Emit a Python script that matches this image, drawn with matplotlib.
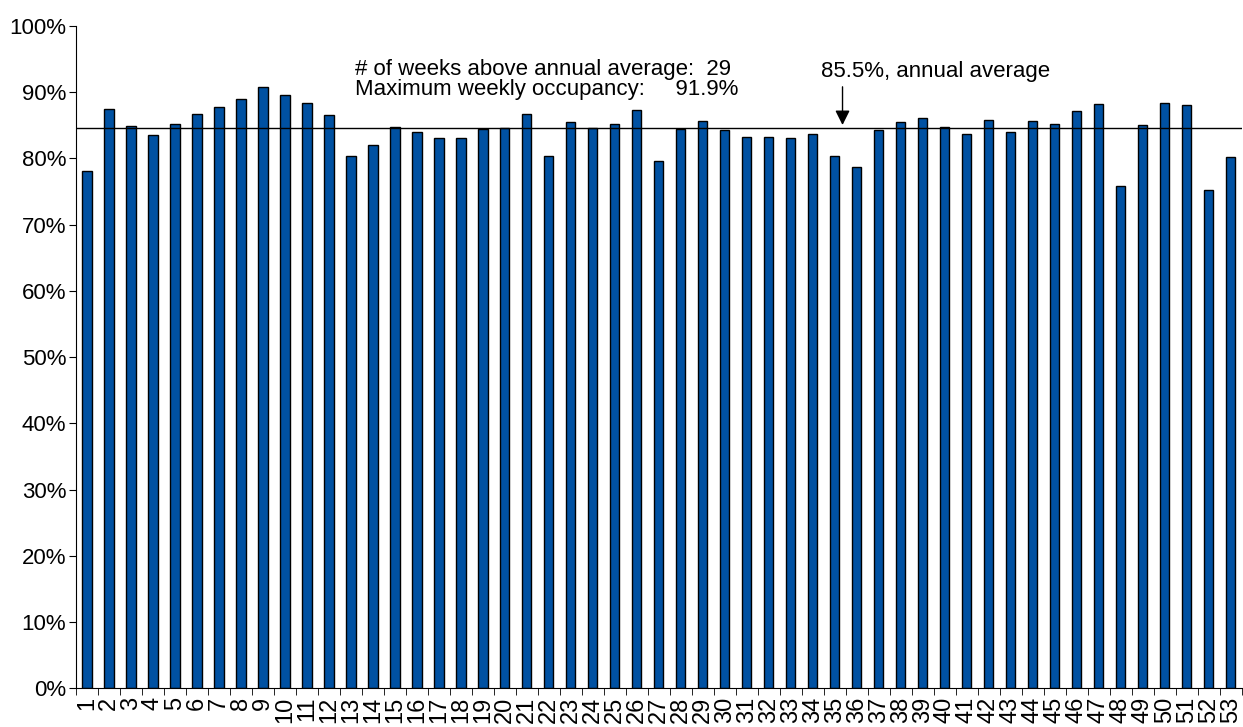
import numpy as np
import matplotlib
matplotlib.use("Agg")
import matplotlib.pyplot as plt

plt.rcParams['font.family'] = ['Liberation Sans', 'DejaVu Sans']

# weekly occupancy, %
weeks = list(range(1, 54))
occupancy = [78.1, 87.5, 84.8, 83.5, 85.1, 86.7, 87.7, 89.0, 90.8, 89.5,
             88.3, 86.6, 80.4, 82.0, 84.7, 84.0, 83.1, 83.1, 84.4, 84.6,
             86.7, 80.4, 85.5, 84.5, 85.1, 87.3, 79.6, 84.4, 85.6, 84.3,
             83.2, 83.2, 83.1, 83.6, 80.3, 78.7, 84.2, 85.5, 86.1, 84.7,
             83.6, 85.8, 84.0, 85.6, 85.1, 87.2, 88.2, 75.8, 85.0, 88.3,
             88.1, 75.2, 80.2]
avg_line = 84.6
avg_label = "85.5%, annual average"
weeks_above = 29
max_occ = 91.9

fig = plt.figure(figsize=(12.43, 7.27), dpi=100)
ax = fig.add_axes([0.0611, 0.0532, 0.9379, 0.9114])

ax.bar(weeks, occupancy, width=0.42, color='#0051A2', edgecolor='black', linewidth=1)
ax.axhline(avg_line, color='black', linewidth=1)

ax.set_xlim(0.5, 53.5)
ax.set_ylim(0, 100)
ax.set_yticks(np.arange(0, 101, 10))
ax.set_yticklabels(["%d%%" % v for v in range(0, 101, 10)], fontsize=16)
ax.set_xticks(weeks)
ax.set_xticklabels([str(w) for w in weeks], rotation=90, fontsize=17)
ax.set_xticks(np.arange(0.5, 54, 1), minor=True)
ax.tick_params(axis='x', which='major', length=0, pad=6)
ax.tick_params(axis='x', which='minor', length=5, direction='out')
ax.tick_params(axis='y', length=5, direction='out', pad=2)

for s in ['top', 'right']:
    ax.spines[s].set_visible(False)

stats = ("# of weeks above annual average:  %d\n"
         "Maximum weekly occupancy:     %.1f%%" % (weeks_above, max_occ))
ax.text(13.2, 95.0, stats, fontsize=16, va='top', linespacing=0.92)
ax.text(34.35, 92.3, avg_label, fontsize=16)
ax.annotate("", xy=(35.35, avg_line), xytext=(35.35, 91.2),
            arrowprops=dict(arrowstyle='-|>', color='black', lw=1, mutation_scale=22))

fig.savefig("out.png", dpi=100)
